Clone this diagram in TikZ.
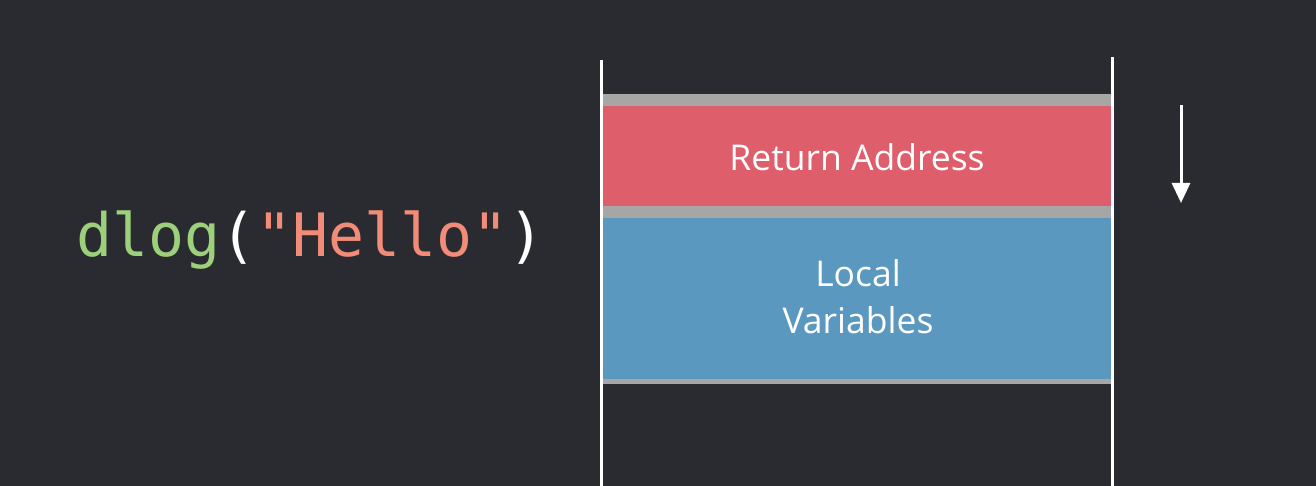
\documentclass[tikz,border=0pt]{standalone}
\usepackage{fontspec}
\setmainfont{Open Sans}
\newfontfamily\codefont{DejaVu Sans Mono}
\usetikzlibrary{arrows.meta}
\definecolor{bg}{HTML}{2A2B30}
\definecolor{sep}{HTML}{A6A6A6}
\definecolor{retred}{HTML}{DF5E6B}
\definecolor{locblue}{HTML}{5A98BF}
\definecolor{codegreen}{HTML}{9DD07A}
\definecolor{codestr}{HTML}{F28B78}
\tikzset{
  frame/.style={draw=white, line width=3pt},
  band/.style={fill=sep},
  label/.style={text=white, font=\fontsize{35.5}{47}\selectfont, align=center},
}
\begin{document}
\begin{tikzpicture}[x=1pt,y=-1pt]
\fill[bg] (0,0) rectangle (1316,486);
\useasboundingbox (0,0) rectangle (1316,486);
% bands
\fill[band] (602,94) rectangle (1112,106);
\fill[retred] (602,106) rectangle (1112,206);
\fill[band] (602,206) rectangle (1112,218);
\fill[locblue] (602,218) rectangle (1112,379);
\fill[band] (602,379) rectangle (1112,384);
\node[label] (ret) at (857,157) {Return Address};
\node[label] (loc) at (858,297) {Local\\Variables};
% frame lines
\coordinate (lt) at (601.5,60);
\coordinate (lb) at (601.5,486);
\coordinate (rt) at (1112.5,57);
\coordinate (rb) at (1112.5,486);
\draw[frame] (lt) -- (lb);
\draw[frame] (rt) -- (rb);
% arrow
\coordinate (as) at (1181,105);
\coordinate (ae) at (1181,203);
\draw[white, line width=3pt, -{Triangle[length=20pt,width=18pt]}] (as) -- (ae);
% code
\node[anchor=west, inner sep=0pt, font=\codefont\fontsize{59.8}{60}\selectfont] (code) at (76,240)
  {\textcolor{codegreen}{dlog}\textcolor{white}{(}\textcolor{codestr}{"Hello"}\textcolor{white}{)}};
\end{tikzpicture}
\end{document}
